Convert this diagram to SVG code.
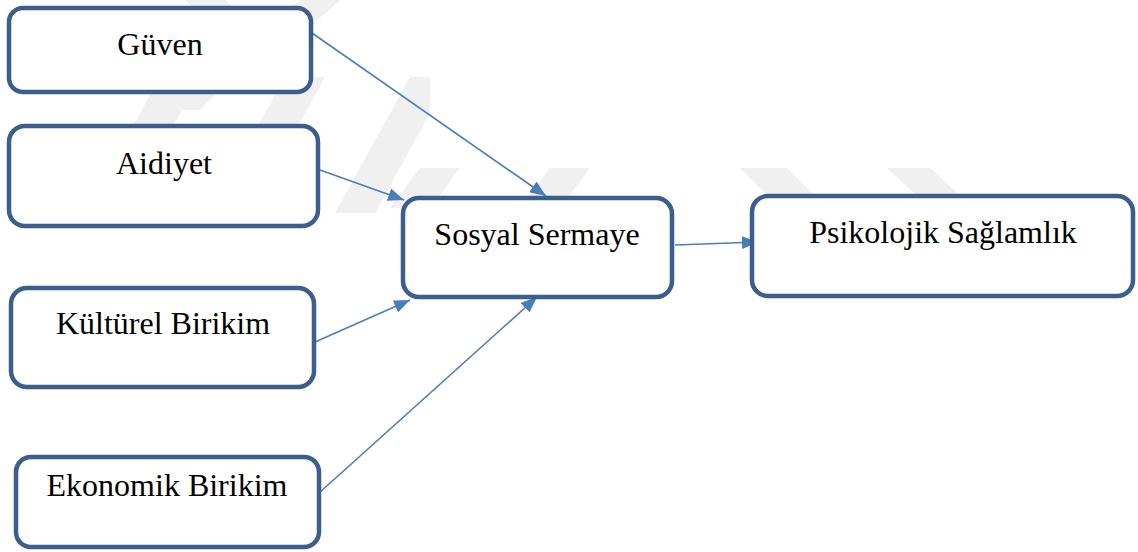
<svg xmlns="http://www.w3.org/2000/svg" width="1138" height="552" viewBox="0 0 1138 552">
<style>
.box{fill:#ffffff;stroke:#3b5e8c;stroke-width:4.5}
.lbl{font-size:32px;fill:#000;text-anchor:middle}
.wm{fill:#f0f0f0}
.conn{stroke:#4a7ebb;stroke-width:1.6;fill:none}
</style>
<defs>
<marker id="arr" markerWidth="16" markerHeight="13" refX="16" refY="6.5" orient="auto" markerUnits="userSpaceOnUse" viewBox="0 0 16 13">
<path d="M0,0 L16,6.5 L0,13 Z" fill="#4a7ebb"/>
</marker>
<clipPath id="c1"><rect x="77" y="77" width="353" height="136"/></clipPath>
<clipPath id="c2"><rect x="380" y="168" width="620" height="40"/></clipPath>
</defs>
<rect width="1138" height="552" fill="#ffffff"/>
<g id="watermark">
<polygon class="wm" points="185,0 225,0 262,35 300,0 340,0 262,70"/>
<polygon class="wm" points="175,20 215,20 250,60 200,110 160,110 210,60"/>
<g clip-path="url(#c1)">
<polygon class="wm" points="85,213 125,213 200,77 160,77"/>
<polygon class="wm" points="210,213 250,213 325,77 285,77"/>
<polygon class="wm" points="335,213 375,213 450,77 410,77"/>
</g>
<g clip-path="url(#c2)">
<polygon class="wm" points="390,208 430,208 460,168 420,168"/>
<polygon class="wm" points="520,208 560,208 590,168 550,168"/>
<polygon class="wm" points="740,168 787,168 827,208 780,208"/>
<polygon class="wm" points="887,168 930,168 973,208 930,208"/>
</g>
</g>
<g id="connectors">
<line class="conn" x1="312" y1="33" x2="546" y2="196" marker-end="url(#arr)"/>
<line class="conn" x1="320" y1="170" x2="404" y2="200" marker-end="url(#arr)"/>
<line class="conn" x1="315" y1="342" x2="410" y2="300" marker-end="url(#arr)"/>
<line class="conn" x1="319" y1="493" x2="537" y2="297" marker-end="url(#arr)"/>
<line class="conn" x1="675" y1="245" x2="758" y2="242" marker-end="url(#arr)"/>
</g>
<g id="node-guven">
<rect class="box" x="9" y="8" width="302" height="84" rx="14"/>
<text class="lbl" font-family="Liberation Serif, DejaVu Serif, serif" x="160" y="55">Güven</text>
</g>
<g id="node-aidiyet">
<rect class="box" x="9" y="126" width="309" height="100" rx="16"/>
<text class="lbl" font-family="Liberation Serif, DejaVu Serif, serif" x="164" y="174">Aidiyet</text>
</g>
<g id="node-kulturel">
<rect class="box" x="11" y="288" width="303" height="99" rx="16"/>
<text class="lbl" font-family="Liberation Serif, DejaVu Serif, serif" x="163" y="334">Kültürel Birikim</text>
</g>
<g id="node-ekonomik">
<rect class="box" x="16" y="457" width="303" height="90" rx="15"/>
<text class="lbl" font-family="Liberation Serif, DejaVu Serif, serif" x="167" y="496">Ekonomik Birikim</text>
</g>
<g id="node-sosyal">
<rect class="box" x="403" y="198" width="269" height="99" rx="16"/>
<text class="lbl" font-family="Liberation Serif, DejaVu Serif, serif" x="537" y="245">Sosyal Sermaye</text>
</g>
<g id="node-psikolojik">
<rect class="box" x="752" y="196" width="381" height="100" rx="16"/>
<text class="lbl" font-family="Liberation Serif, DejaVu Serif, serif" x="943" y="243">Psikolojik Sağlamlık</text>
</g>
</svg>
